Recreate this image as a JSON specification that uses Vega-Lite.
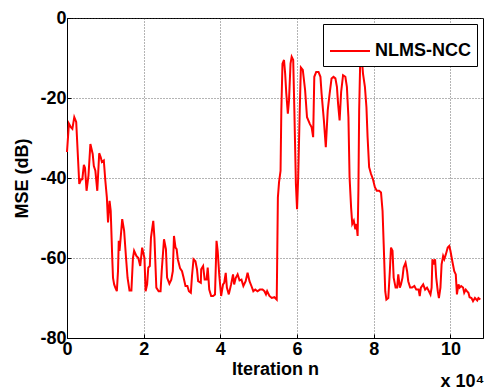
{
  "$schema": "https://vega.github.io/schema/vega-lite/v6.json",
  "width": 416,
  "height": 320,
  "autosize": "none",
  "padding": {"left": 67, "top": 18, "right": 1, "bottom": 53},
  "background": "white",
  "config": {
    "font": "Liberation Sans",
    "view": {"stroke": "black", "strokeWidth": 1},
    "axis": {
      "labelFont": "Liberation Sans", "labelFontWeight": "bold", "labelFontSize": 18, "labelColor": "black",
      "titleFont": "Liberation Sans", "titleFontWeight": "bold", "titleFontSize": 18, "titleColor": "black",
      "domainColor": "black", "tickColor": "black", "tickSize": -4,
      "gridColor": "#444", "gridDash": [1, 2], "gridWidth": 1, "gridOpacity": 0.8
    }
  },
  "title": {"text": "x 10⁴", "orient": "bottom", "anchor": "end", "font": "Liberation Sans", "fontWeight": "bold", "fontSize": 18, "color": "black", "offset": -5},
  "data": {"values": [
    {"n":0,"mse":-33.5},{"n":500,"mse":-26.4},{"n":1000,"mse":-27.3},{"n":1400,"mse":-27.7},{"n":1900,"mse":-24.8},{"n":2400,"mse":-26},
    {"n":3200,"mse":-41.5},{"n":3700,"mse":-40.3},{"n":4000,"mse":-40.3},{"n":4400,"mse":-36.7},{"n":4700,"mse":-37.5},{"n":5100,"mse":-43.2},
    {"n":5600,"mse":-39.4},{"n":6100,"mse":-31.5},{"n":6700,"mse":-34},{"n":7000,"mse":-37},{"n":7400,"mse":-38.2},{"n":7900,"mse":-43.2},
    {"n":8400,"mse":-33.8},{"n":8800,"mse":-34.8},{"n":9100,"mse":-36},{"n":9600,"mse":-35.6},{"n":10000,"mse":-40.7},{"n":10400,"mse":-44.9},
    {"n":10700,"mse":-51.1},{"n":11100,"mse":-45.7},{"n":11400,"mse":-48.2},{"n":11800,"mse":-60},{"n":12000,"mse":-65},{"n":12300,"mse":-66.6},
    {"n":12600,"mse":-67.4},{"n":13000,"mse":-68.3},{"n":13300,"mse":-63.3},{"n":13500,"mse":-55.7},{"n":13700,"mse":-58.2},{"n":14000,"mse":-54.9},
    {"n":14400,"mse":-50.3},{"n":14900,"mse":-53.2},{"n":15400,"mse":-60},{"n":15800,"mse":-65},{"n":16300,"mse":-68.1},{"n":16800,"mse":-68.1},
    {"n":17200,"mse":-60},{"n":17500,"mse":-58.2},{"n":18100,"mse":-59.5},{"n":18600,"mse":-60},{"n":19100,"mse":-62},{"n":19600,"mse":-57.4},
    {"n":20200,"mse":-60},{"n":20500,"mse":-68.3},{"n":20900,"mse":-66.6},{"n":21200,"mse":-62.4},{"n":21600,"mse":-62},{"n":21900,"mse":-54.9},
    {"n":22500,"mse":-50.7},{"n":22800,"mse":-54.9},{"n":23300,"mse":-67.4},{"n":23900,"mse":-68.3},{"n":24400,"mse":-68.3},{"n":24700,"mse":-63.3},
    {"n":25300,"mse":-55.3},{"n":25800,"mse":-57.8},{"n":26100,"mse":-64.9},{"n":26700,"mse":-66.4},{"n":27200,"mse":-65.4},{"n":27600,"mse":-63.3},
    {"n":27900,"mse":-54.5},{"n":28300,"mse":-57.4},{"n":28600,"mse":-57.8},{"n":28900,"mse":-60.3},{"n":29500,"mse":-62.6},{"n":30000,"mse":-63.3},
    {"n":30400,"mse":-64.9},{"n":30900,"mse":-67},{"n":31400,"mse":-67},{"n":31800,"mse":-68.3},{"n":32300,"mse":-68.7},{"n":32600,"mse":-64.5},
    {"n":33000,"mse":-60.3},{"n":33500,"mse":-60.8},{"n":33900,"mse":-62.8},{"n":34200,"mse":-65.8},{"n":34900,"mse":-66.2},{"n":35000,"mse":-62.8},
    {"n":35500,"mse":-62},{"n":35900,"mse":-65.4},{"n":36400,"mse":-65.4},{"n":36700,"mse":-62.4},{"n":37100,"mse":-67.9},{"n":37600,"mse":-69.5},
    {"n":38100,"mse":-69.5},{"n":38600,"mse":-69.1},{"n":39000,"mse":-55.7},{"n":39300,"mse":-58.2},{"n":39700,"mse":-64.1},{"n":40200,"mse":-69.5},
    {"n":40700,"mse":-66.6},{"n":41000,"mse":-66.2},{"n":41400,"mse":-63.7},{"n":41700,"mse":-67.4},{"n":42200,"mse":-69.1},{"n":42800,"mse":-66.6},
    {"n":43300,"mse":-64.1},{"n":43600,"mse":-66.6},{"n":44000,"mse":-65},{"n":44500,"mse":-64.1},{"n":45000,"mse":-65.6},{"n":45500,"mse":-65.4},
    {"n":46000,"mse":-67},{"n":46600,"mse":-65.8},{"n":47100,"mse":-63.7},{"n":47600,"mse":-65.8},{"n":48100,"mse":-67},{"n":48600,"mse":-68.3},
    {"n":49100,"mse":-67.9},{"n":49700,"mse":-68.3},{"n":50300,"mse":-67.9},{"n":51000,"mse":-67.9},{"n":51500,"mse":-68.3},{"n":51900,"mse":-69.1},
    {"n":52200,"mse":-68.3},{"n":52800,"mse":-69.5},{"n":53400,"mse":-70},{"n":54100,"mse":-69.8},{"n":54700,"mse":-70.4},{"n":54800,"mse":-62.4},
    {"n":55000,"mse":-44.9},{"n":55300,"mse":-41.1},{"n":55700,"mse":-38.2},{"n":55900,"mse":-23.1},{"n":56200,"mse":-11.4},{"n":56600,"mse":-10.5},
    {"n":56900,"mse":-13.9},{"n":57200,"mse":-18.9},{"n":57600,"mse":-23.9},{"n":57900,"mse":-20.6},{"n":58300,"mse":-11.4},{"n":58600,"mse":-9.7},
    {"n":59000,"mse":-10.5},{"n":59300,"mse":-23.1},{"n":59700,"mse":-41.5},{"n":60000,"mse":-47.8},{"n":60300,"mse":-39.8},{"n":60700,"mse":-23.1},
    {"n":61000,"mse":-12.4},{"n":61500,"mse":-13},{"n":62100,"mse":-18},{"n":62600,"mse":-24.8},{"n":63300,"mse":-26.4},{"n":63800,"mse":-27.3},
    {"n":64200,"mse":-29.8},{"n":64500,"mse":-14.7},{"n":65000,"mse":-13.5},{"n":65600,"mse":-13.5},{"n":66100,"mse":-14.7},{"n":66400,"mse":-18.9},
    {"n":67000,"mse":-25.6},{"n":67500,"mse":-32.3},{"n":68000,"mse":-23.1},{"n":68500,"mse":-18.9},{"n":69000,"mse":-15.1},{"n":69500,"mse":-14.7},
    {"n":70000,"mse":-15.1},{"n":70400,"mse":-17.2},{"n":70700,"mse":-21.4},{"n":71100,"mse":-25.6},{"n":71500,"mse":-18.5},{"n":72000,"mse":-14.3},
    {"n":72600,"mse":-14.7},{"n":73000,"mse":-17.2},{"n":73400,"mse":-24.8},{"n":73700,"mse":-39.8},{"n":74100,"mse":-47.4},{"n":74400,"mse":-51.5},
    {"n":74800,"mse":-50.7},{"n":75200,"mse":-52.8},{"n":75500,"mse":-51.5},{"n":75800,"mse":-54.5},{"n":76000,"mse":-43.2},{"n":76200,"mse":-23.1},
    {"n":76500,"mse":-9.7},{"n":76900,"mse":-10.1},{"n":77200,"mse":-13.9},{"n":77700,"mse":-17.2},{"n":78100,"mse":-22.3},{"n":78400,"mse":-29.8},
    {"n":78800,"mse":-37.3},{"n":79300,"mse":-39},{"n":79800,"mse":-40.3},{"n":80300,"mse":-42.3},{"n":80800,"mse":-43.2},{"n":81400,"mse":-43.2},
    {"n":81900,"mse":-43.6},{"n":82300,"mse":-48.2},{"n":82600,"mse":-56.6},{"n":83000,"mse":-68.3},{"n":83300,"mse":-70.4},{"n":83800,"mse":-70},
    {"n":84200,"mse":-63.3},{"n":84500,"mse":-57.4},{"n":84900,"mse":-58.2},{"n":85200,"mse":-64.9},{"n":85700,"mse":-67.4},{"n":86100,"mse":-67.4},
    {"n":86400,"mse":-64.1},{"n":86800,"mse":-67.4},{"n":87100,"mse":-66.6},{"n":87500,"mse":-64.9},{"n":87800,"mse":-62.4},{"n":88300,"mse":-61.2},
    {"n":88700,"mse":-63.3},{"n":89000,"mse":-65.8},{"n":89500,"mse":-67.4},{"n":90000,"mse":-67.4},{"n":90600,"mse":-67},{"n":91100,"mse":-67.9},
    {"n":91700,"mse":-67.9},{"n":92000,"mse":-69.5},{"n":92300,"mse":-67.4},{"n":92900,"mse":-66.6},{"n":93400,"mse":-67.9},{"n":93900,"mse":-67.4},
    {"n":94400,"mse":-68.3},{"n":94800,"mse":-69.1},{"n":95100,"mse":-67.4},{"n":95300,"mse":-60.3},{"n":95600,"mse":-61.6},{"n":96000,"mse":-60.3},
    {"n":96300,"mse":-64.9},{"n":96700,"mse":-68.3},{"n":97000,"mse":-70},{"n":97400,"mse":-67.4},{"n":97700,"mse":-61.6},{"n":98100,"mse":-59.5},
    {"n":98400,"mse":-60.3},{"n":98800,"mse":-59.1},{"n":99300,"mse":-57.4},{"n":99700,"mse":-57},{"n":100000,"mse":-58.2},{"n":100500,"mse":-60.8},
    {"n":101000,"mse":-63.3},{"n":101400,"mse":-64.1},{"n":101700,"mse":-69.1},{"n":102100,"mse":-66.6},{"n":102400,"mse":-67.4},{"n":102800,"mse":-67},
    {"n":103300,"mse":-67.4},{"n":103600,"mse":-68.7},{"n":104000,"mse":-67.9},{"n":104300,"mse":-68.3},{"n":104700,"mse":-68.7},{"n":105000,"mse":-69.8},
    {"n":105500,"mse":-70},{"n":105900,"mse":-70.8},{"n":106400,"mse":-70},{"n":107000,"mse":-70.6},{"n":107300,"mse":-70},{"n":107800,"mse":-70.4}
  ]},
  "mark": {"type": "line", "strokeWidth": 2, "interpolate": "linear"},
  "encoding": {
    "x": {
      "field": "n", "type": "quantitative",
      "scale": {"domain": [0, 108500], "nice": false, "zero": false},
      "axis": {"title": "Iteration n", "values": [0, 20000, 40000, 60000, 80000, 100000], "labelExpr": "'' + (datum.value / 10000)", "labelPadding": 6, "titlePadding": 2, "labelFlush": false}
    },
    "y": {
      "field": "mse", "type": "quantitative",
      "scale": {"domain": [-80, 0], "nice": false},
      "axis": {"title": "MSE (dB)", "values": [-80, -60, -40, -20, 0], "labelExpr": "'' + datum.value", "labelPadding": 5, "titlePadding": 8}
    },
    "color": {
      "datum": "NLMS-NCC",
      "scale": {"range": ["#ff0000"]},
      "legend": {
        "title": null, "orient": "top-right", "offset": 6,
        "symbolType": "stroke", "symbolSize": 1600, "symbolStrokeWidth": 2,
        "labelFont": "Liberation Sans", "labelFontWeight": "bold", "labelFontSize": 18, "labelColor": "black", "labelOffset": 4,
        "strokeColor": "black", "fillColor": "white", "padding": 6, "cornerRadius": 0
      }
    }
  }
}
